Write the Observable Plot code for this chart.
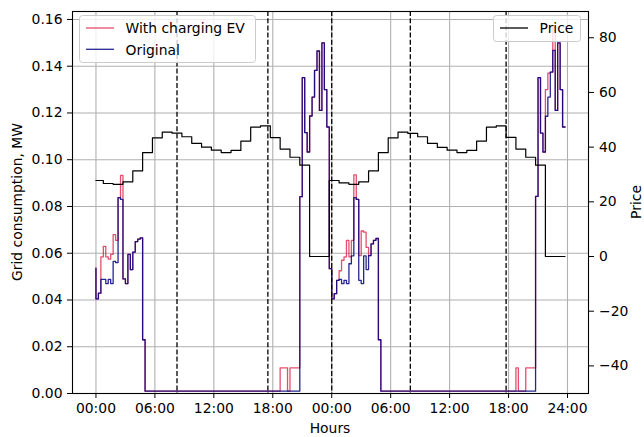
<!DOCTYPE html>
<html><head><meta charset="utf-8">
<script src="https://cdn.jsdelivr.net/npm/d3@7"></script>
<script src="https://cdn.jsdelivr.net/npm/@observablehq/plot@0.6"></script>
<style>
body{margin:0;background:#fff;}
#wrap{position:relative;width:644px;height:437px;overflow:hidden;font-family:"DejaVu Sans",sans-serif;}
#wrap svg{position:absolute;left:0;top:0;}
</style></head>
<body><div id="wrap"></div>
<script>
// ---- data (15-minute samples, hours from start) ----
const originalDay1 = [
0.0536,0.0405,0.0429,0.0488,0.0488,0.0470,0.0488,0.0470,0.0565,0.0560,
0.0838,0.0830,0.0490,0.0470,0.0595,0.0530,0.0605,0.0650,0.0660,0.0666,
0.0230,
0.001,0.001,0.001,0.001,0.001,0.001,0.001,0.001,0.001,0.001,
0.001,0.001,0.001,0.001,0.001,0.001,0.001,0.001,0.001,0.001,
0.001,0.001,0.001,0.001,0.001,0.001,0.001,0.001,0.001,0.001,
0.001,0.001,0.001,0.001,0.001,0.001,0.001,0.001,0.001,0.001,
0.001,0.001,0.001,0.001,0.001,0.001,0.001,0.001,0.001,0.001,
0.001,0.001,0.001,0.001,0.001,0.001,0.001,0.001,0.001,0.001,
0.001,0.001,0.001,
0.0842,0.1351,0.1116,0.1033,0.1187,0.1268,0.1382,0.1465,0.1211,0.1500,0.1300,0.1140];
const originalDay2 = [
0.0534,0.0405,0.0427,0.0484,0.0488,0.0470,0.0484,0.0470,0.0555,0.0589,
0.0838,0.0830,0.0484,0.0470,0.0589,0.0530,0.0590,0.0640,0.0655,0.0663,
0.0230,
0.001,0.001,0.001,0.001,0.001,0.001,0.001,0.001,0.001,0.001,
0.001,0.001,0.001,0.001,0.001,0.001,0.001,0.001,0.001,0.001,
0.001,0.001,0.001,0.001,0.001,0.001,0.001,0.001,0.001,0.001,
0.001,0.001,0.001,0.001,0.001,0.001,0.001,0.001,0.001,0.001,
0.001,0.001,0.001,0.001,0.001,0.001,0.001,0.001,0.001,0.001,
0.001,0.001,0.001,0.001,0.001,0.001,0.001,0.001,0.001,0.001,
0.001,0.001,0.001,
0.0843,0.1351,0.1114,0.1033,0.1186,0.1268,0.1375,0.1468,0.1211,0.1500,0.1300,0.1140];
const chargingDay1 = [
0.0536,0.0405,0.0429,0.0584,0.0629,0.0584,0.0575,0.0595,0.0680,0.0655,
0.0838,0.0933,0.0490,0.0470,0.0595,0.0530,0.0605,0.0650,0.0660,0.0666,
0.0230,
0.001,0.001,0.001,0.001,0.001,0.001,0.001,0.001,0.001,0.001,
0.001,0.001,0.001,0.001,0.001,0.001,0.001,0.001,0.001,0.001,
0.001,0.001,0.001,0.001,0.001,0.001,0.001,0.001,0.001,0.001,
0.001,0.001,0.001,0.001,0.001,0.001,0.001,0.001,0.001,0.001,
0.001,0.001,0.001,0.001,0.001,0.001,0.001,0.001,0.001,0.001,
0.001,0.001,0.001,0.001,0.001,
0.011,0.011,0.011,
0.001,
0.011,0.011,0.011,0.011,
0.0842,0.1351,0.1116,0.1033,0.1187,0.1268,0.1382,0.1465,0.1211,0.1500,0.1300,0.1140];
const chargingDay2 = [
0.0534,0.0405,0.0427,0.0484,0.0525,0.0570,0.0584,0.0655,0.0584,0.0655,
0.0935,0.0830,0.0590,0.0695,0.0690,0.0625,0.0590,0.0640,0.0655,0.0663,
0.0230,
0.001,0.001,0.001,0.001,0.001,0.001,0.001,0.001,0.001,0.001,
0.001,0.001,0.001,0.001,0.001,0.001,0.001,0.001,0.001,0.001,
0.001,0.001,0.001,0.001,0.001,0.001,0.001,0.001,0.001,0.001,
0.001,0.001,0.001,0.001,0.001,0.001,0.001,0.001,0.001,0.001,
0.001,0.001,0.001,0.001,0.001,0.001,0.001,0.001,0.001,0.001,
0.001,0.001,0.001,0.001,0.001,
0.011,
0.001,0.001,0.001,
0.011,0.011,0.011,0.011,
0.0843,0.1351,0.1114,0.1033,0.1300,0.1370,0.1375,0.1570,0.1211,0.1500,0.1300,0.1140];
// hourly price
const priceHourly = [
27.8,26.7,26.4,27.3,31.3,38.0,43.4,45.5,45.1,43.8,41.4,40.0,38.9,38.0,38.8,42.2,47.3,47.8,43.5,39.3,36.3,33.4,0,0,
27.8,26.9,26.4,27.3,31.3,38.0,43.4,45.5,45.0,43.8,41.4,39.9,38.9,38.0,38.8,42.2,47.3,47.8,43.6,39.3,36.3,33.4,0,0];
const dashedHours = [8.25, 17.5, 24.0, 32.0, 41.75];
const xTicks = [0,6,12,18,24,30,36,42,48];
const xTickLabels = ["00:00","06:00","12:00","18:00","00:00","06:00","12:00","18:00","24:00"];
const yTicks = [0,0.02,0.04,0.06,0.08,0.10,0.12,0.14,0.16];
const priceTicks = [-40,-20,0,20,40,60,80];
const seriesNames = ["With charging EV","Original","Price"];

// ---- tables ----
const original = originalDay1.concat(originalDay2).map((v,i)=>({t:i*0.25, v}));
const charging = chargingDay1.concat(chargingDay2).map((v,i)=>({t:i*0.25, v}));
const price = original.map((d,i)=>({t:d.t, p:priceHourly[Math.floor(i/4)]}));

const W=644,H=437, mL=72, mR=56, mT=11, mB=44;
const xDomain=[-2.3875, 50.1375];
const FS="13.9px";
const common = {width:W,height:H,marginLeft:mL,marginRight:mR,marginTop:mT,marginBottom:mB,
  style:{fontFamily:"DejaVu Sans",fontSize:FS,background:"transparent",color:"black",overflow:"visible"}};

const RED="crimson", BLUE="navy";

const p1 = Plot.plot({...common,
  x:{domain:xDomain},
  y:{domain:[0,0.1634]},
  marks:[
    Plot.gridX(xTicks,{stroke:"#b0b0b0",strokeOpacity:1,strokeWidth:1.1}),
    Plot.gridY(yTicks,{stroke:"#b0b0b0",strokeOpacity:1,strokeWidth:1.1}),
    Plot.line(charging,{x:"t",y:"v",curve:"step-before",stroke:RED,strokeOpacity:0.75,strokeWidth:1.3}),
    Plot.line(original,{x:"t",y:"v",curve:"step-before",stroke:BLUE,strokeOpacity:0.85,strokeWidth:1.3}),
    Plot.ruleX(dashedHours,{stroke:"black",strokeWidth:1.3,strokeDasharray:"5,2.2"}),
    Plot.axisX(xTicks,{tickSize:5,tickPadding:5,tickFormat:d=>xTickLabels[xTicks.indexOf(d)],label:null,fill:"black"}),
    Plot.axisY(yTicks,{tickSize:5,tickPadding:5,tickFormat:d=>d.toFixed(2),label:null,fill:"black"}),
    Plot.frame({stroke:"black",strokeWidth:1.1})
  ]});

const p2 = Plot.plot({...common,
  x:{domain:xDomain,axis:null},
  y:{domain:[-50.1,89.6]},
  marks:[
    Plot.line(price,{x:"t",y:"p",curve:"step-before",stroke:"black",strokeWidth:1.2}),
    Plot.axisY(priceTicks,{anchor:"right",tickSize:5,tickPadding:5.5,label:null,fill:"black",
      tickFormat:d=>d<0?"\u2212"+Math.abs(d):String(d)})
  ]});

const wrap=document.getElementById("wrap");
wrap.appendChild(p1); wrap.appendChild(p2);

// axis titles
const s1=d3.select(p1);
s1.append("text").attr("transform","translate(21.5,202) rotate(-90)").attr("text-anchor","middle")
  .attr("font-family","DejaVu Sans").attr("font-size",FS).attr("fill","black").text("Grid consumption, MW");
s1.append("text").attr("x",330).attr("y",433).attr("text-anchor","middle")
  .attr("font-family","DejaVu Sans").attr("font-size",FS).attr("fill","black").text("Hours");
const s2=d3.select(p2);
s2.append("text").attr("transform","translate(640.5,202) rotate(-90)").attr("text-anchor","middle")
  .attr("font-family","DejaVu Sans").attr("font-size",FS).attr("fill","black").text("Price");

// legends
function legend(svg,x,y,w,h,items){
  const g=svg.append("g").attr("text-anchor","start");
  g.append("rect").attr("x",x).attr("y",y).attr("width",w).attr("height",h).attr("rx",3)
    .attr("fill","white").attr("fill-opacity",0.8).attr("stroke","#cccccc").attr("stroke-width",1);
  items.forEach((it,k)=>{
    const cy=y+12.5+k*21.3;
    g.append("line").attr("x1",x+6.5).attr("x2",x+34.5).attr("y1",cy).attr("y2",cy)
      .attr("stroke",it.color).attr("stroke-opacity",it.op).attr("stroke-width",1.3);
    g.append("text").attr("x",x+46).attr("y",cy+5.2).attr("text-anchor","start").attr("font-family","DejaVu Sans")
      .attr("font-size",FS).attr("fill","black").text(it.label);
  });
}
legend(s2,79.5,15.5,176,47,[{label:seriesNames[0],color:RED,op:0.75},{label:seriesNames[1],color:BLUE,op:0.85}]);
legend(s2,493.5,15.5,87,26,[{label:seriesNames[2],color:"black",op:1}]);
</script></body></html>
